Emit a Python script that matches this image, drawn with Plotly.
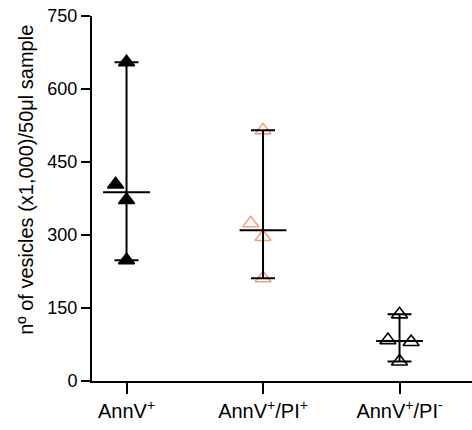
import plotly.graph_objects as go
import numpy as np

categories = ["AnnV<sup>+</sup>", "AnnV<sup>+</sup>/PI<sup>+</sup>", "AnnV<sup>+</sup>/PI<sup>-</sup>"]
annv = [655, 404, 372, 248]
annv_pi_pos = [515, 324, 296, 211]
annv_pi_neg = [137, 84, 80, 40]
series = [annv, annv_pi_pos, annv_pi_neg]
y_ticks = [0, 150, 300, 450, 600, 750]
y_title = "nº of vesicles (x1,000)/50μl sample"
# swarm offsets (category units) to avoid overlap, as in the original dot plot
swarm = [[0, -0.08, 0, 0], [0, -0.09, 0, 0], [0, -0.085, 0.085, 0]]

symbols = ["triangle-up", "triangle-up-open", "triangle-up-open"]
colors = ["black", "#F4A283", "black"]

fig = go.Figure()
for i, vals in enumerate(series):
    xs = [i + o for o in swarm[i]]
    fig.add_trace(go.Scatter(
        x=xs, y=vals, mode="markers",
        marker=dict(symbol=symbols[i], size=14, color=colors[i],
                    line=dict(width=1.6, color=colors[i])),
        showlegend=False, hoverinfo="y"))

for i, vals in enumerate(series):
    med = float(np.median(vals))
    fig.add_trace(go.Scatter(
        x=[i], y=[med], mode="markers",
        marker=dict(symbol="line-ew", size=33.5, color="black",
                    line=dict(width=2, color="black")),
        error_y=dict(type="data", symmetric=False,
                     array=[max(vals) - med], arrayminus=[med - min(vals)],
                     color="black", thickness=2, width=12),
        showlegend=False, hoverinfo="y"))

fig.add_annotation(
    text=y_title, textangle=-90, xref="paper", yref="paper",
    x=-0.174, y=0.551, xanchor="center", yanchor="middle", showarrow=False,
    font=dict(size=20, color="black"))

fig.update_layout(
    width=472, height=430,
    margin=dict(l=92, r=0, t=16, b=49, autoexpand=False),
    paper_bgcolor="white", plot_bgcolor="white",
    font=dict(family="Liberation Sans, Arial", size=18, color="black"),
    xaxis=dict(range=[-0.253, 2.531], tickvals=[0, 1, 2], ticktext=categories,
               showline=True, linewidth=2, linecolor="black",
               ticks="outside", ticklen=11, tickwidth=2, tickcolor="black",
               showgrid=False, zeroline=False, tickfont=dict(size=20),
               automargin=False, ticklabeloverflow="allow"),
    yaxis=dict(range=[0, 750], tickvals=y_ticks,
               showline=True, linewidth=2, linecolor="black",
               ticks="outside", ticklen=9, tickwidth=2, tickcolor="black",
               showgrid=False, zeroline=False, tickfont=dict(size=18),
               automargin=False, ticklabeloverflow="allow"),
)

fig.write_html("out.html", config={"displayModeBar": False},
               post_script="document.body.style.margin='0';document.body.style.overflow='hidden';")
